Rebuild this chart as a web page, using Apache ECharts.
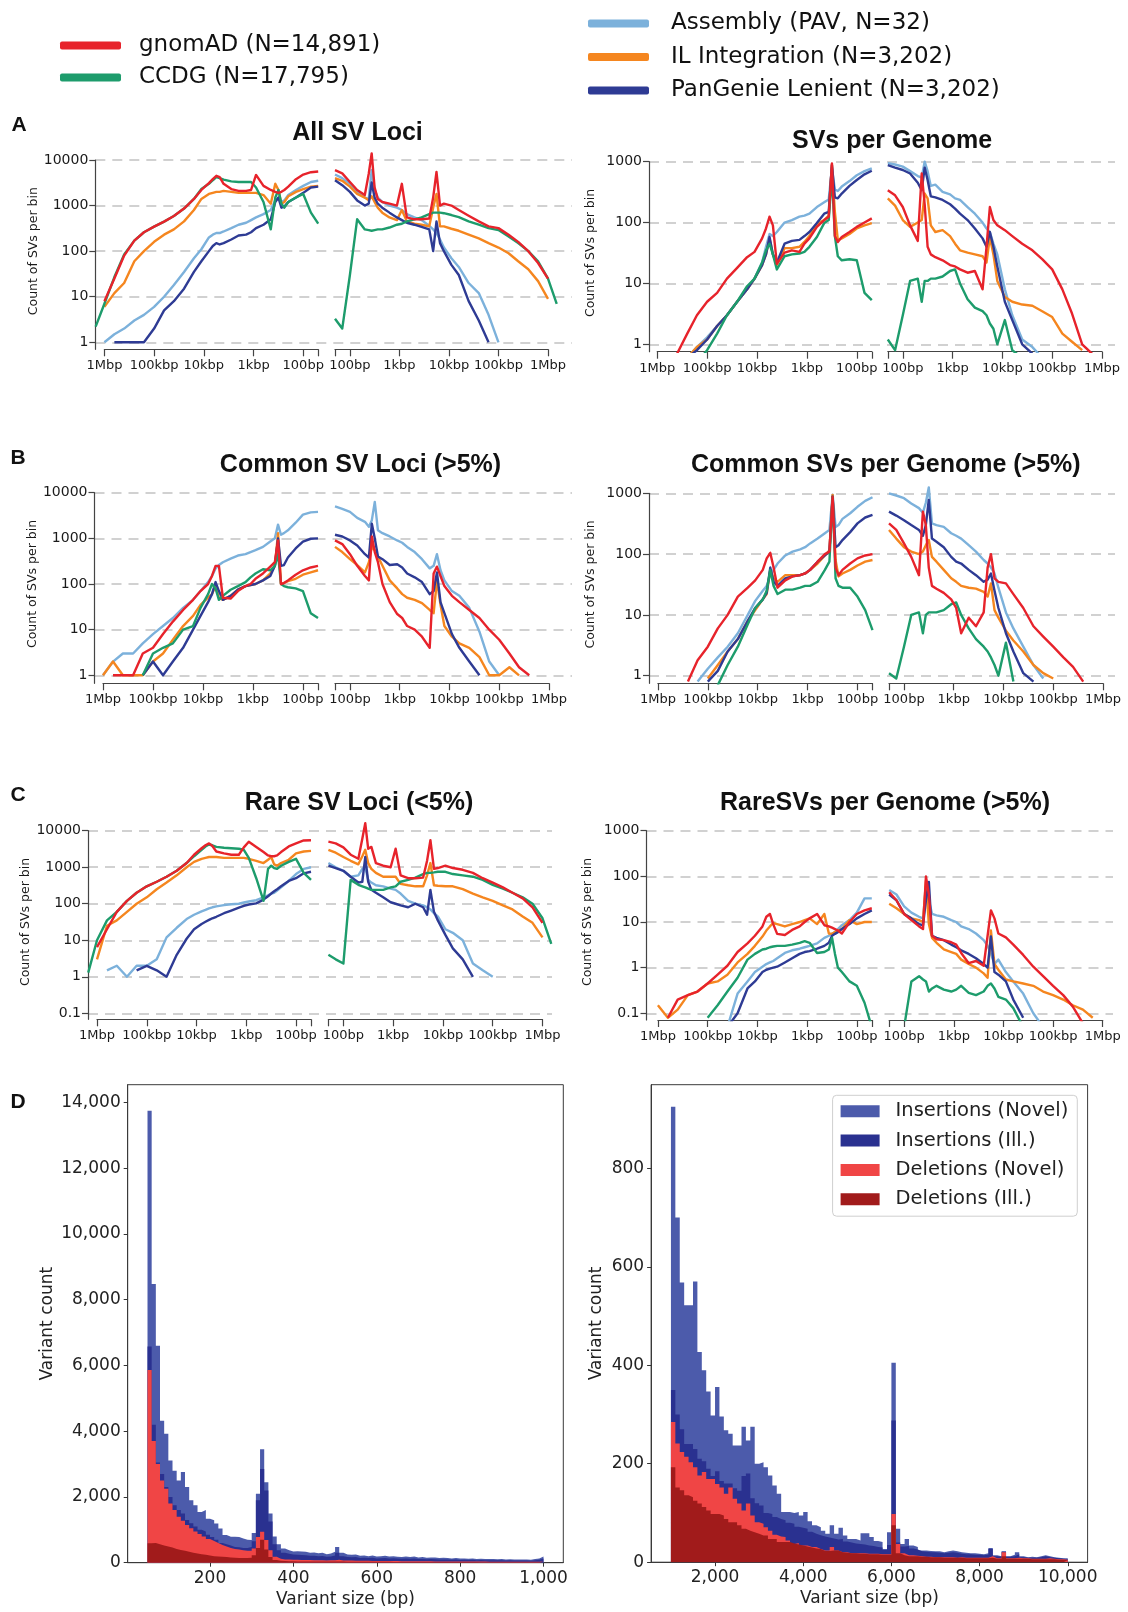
<!DOCTYPE html>
<html><head><meta charset="utf-8">
<script src="https://cdn.jsdelivr.net/npm/echarts@6.0.0/dist/echarts.min.js"></script>
<style>html,body{margin:0;padding:0;background:#fff}#chart{width:1128px;height:1612px}</style>
</head><body><div id="chart"></div>
<script>
// ---------------- DATA ----------------
// size bins (bp) shared by all size-distribution lines
const sizeBins = [50,70,100,140,200,240,275,315,365,450,630,890,1120,1410,2000,2800,4000,4800,5600,6600,7900,11200,15800,25000,40000,63000,100000,160000,250000,400000,630000,1000000,1500000];
const sizeTickLabels = {2:'100bp',3:'1kbp',4:'10kbp',5:'100kbp',6:'1Mbp'};
const seriesNames = ['Assembly (PAV, N=32)','IL Integration (N=3,202)','PanGenie Lenient (N=3,202)','CCDG (N=17,795)','gnomAD (N=14,891)'];
const seriesColors = ['#7cb1db','#f5861f','#2e3b94','#1d9c6c','#e7232b'];

// A: All SV loci (deletions / insertions)
const allLoci_del_gnomad   = [5600,5400,4800,3800,2600,2200,2000,1900,2000,2200, 2700,4700,2200,2100,2100,2300,3000,4200,4500,3800, 3100,2200,1400,860,590,445,345,260,170,80, 25,8,null];
const allLoci_del_ccdg     = [400,700,1800,1500,1200,900,1100,2200,1500,300, 1200,2500,3300,3300,3300,3400,3700,4000,4200,3600, 3000,2300,1400,860,590,445,345,260,170,85, 27,7,2.2];
const allLoci_del_il       = [2700,2600,2300,2000,1600,1200,1100,2200,3000,1100, 1700,1900,1900,1900,1900,2000,2100,2000,2000,1900, 1800,1400,800,450,300,230,160,100,60,20, 12,6,null];
const allLoci_del_assembly = [3500,3300,2700,2200,1700,1300,1200,1500,1300,800, 650,550,480,420,380,320,270,250,250,230, 200,110,70,35,18,10,6,4,3,2, 1.5,1,null];
const allLoci_del_pangenie = [2600,2500,1900,1500,1200,950,900,1500,1200,500, 380,320,260,230,220,180,150,140,150,130, 100,60,35,15,8,5,2,1,1,1, 1,null,null];
const allLoci_ins_gnomad   = [6000,5100,3300,2200,1700,5000,14000,2500,1400,1200, 1100,1000,3000,550,500,500,520,1500,5500,1000, 1100,1000,800,600,450,350,320,230,160,100, 55,25,null];
const allLoci_ins_ccdg     = [3.3,2,30,500,300,290,280,290,300,300, 330,380,400,450,500,550,650,700,700,700, 680,620,560,450,380,320,290,210,150,100, 60,25,7];
const allLoci_ins_il       = [4000,3500,2600,1800,1500,1300,1600,1200,900,700, 550,480,800,450,400,380,350,900,1800,350, 350,310,280,230,190,150,120,90,60,40, 22,9,null];
const allLoci_ins_assembly = [4800,4000,3000,2000,1500,1400,6000,2200,1500,1200, 1000,900,800,650,550,480,360,300,250,180, 120,70,45,20,12,4,1,null,null,null, null,null,null];
const allLoci_ins_pangenie = [3600,2800,2000,1300,1000,1100,3200,1500,1100,900, 700,550,480,420,380,340,300,100,450,150, 100,50,30,8,3,1,null,null,null,null, null,null,null];

// A: SVs per genome
const perGenome_del_gnomad   = [117,100,85,70,58,48,60,940,125,110, 85,55,45,33,35,32,21,90,125,80, 55,33,27,18,12,7,5,3,1.5,0.7, null,null,null];
const perGenome_del_ccdg     = [5.3,7,24,25,24,28,60,600,110,98, 58,40,33,31,30,28,17,30,45,35, 22,12,9,5,3,1.5,0.8,0.5,null,null, null,null,null];
const perGenome_del_il       = [98,90,80,65,55,52,150,900,130,110, 95,60,48,40,38,38,20,30,55,30, 20,12,8,5,3,2,1.2,0.9,0.6,null, null,null,null];
const perGenome_del_assembly = [780,700,600,480,390,330,350,800,240,215, 180,140,130,125,110,100,70,60,65,40, 22,12,8,5,3,2,1.3,0.9,0.6,null, null,null,null];
const perGenome_del_pangenie = [710,620,500,400,300,250,260,880,150,140, 98,70,60,52,50,45,22,30,58,30, 20,12,8,5,3,2,1.2,0.8,0.6,null, null,null,null];
const perGenome_ins_gnomad   = [340,280,180,90,50,640,200,40,30,27, 24,20,19,17,15,16,8,40,180,110, 90,75,60,45,35,25,17,8,3.2,1, 0.7,null,null];
const perGenome_ins_ccdg     = [1.2,0.8,3,11,12,5,11,11,12,12, 13,16,17,10,5.5,4,3.5,3,2.2,1.8, 1,2.5,0.8,0.6,null,null,null,null,null,null, null,null,null];
const perGenome_ins_il       = [250,190,110,85,100,110,300,250,90,70, 75,60,45,35,32,30,28,22,58,30, 11,6,5,4.5,4.3,3.5,2.8,1.5,1.1,0.8, null,null,null];
const perGenome_ins_assembly = [950,900,830,700,580,550,1000,700,400,420, 320,290,250,235,180,140,100,80,70,45, 30,8,3,1.2,0.9,0.6,null,null,null,null, null,null,null];
const perGenome_ins_pangenie = [880,800,730,640,450,340,800,500,270,260, 235,200,170,140,110,80,55,40,70,40, 19,5,2.5,1,0.7,null,null,null,null,null, null,null,null];

// B: Common SV loci (>5%)
const commonLoci_del_gnomad   = [250,230,200,160,120,105,100,900,300,240, 170,130,100,90,70,48,50,250,250,150, 100,70,45,27,15,8,4,3,1,1, 1,null,null];
const commonLoci_del_ccdg     = [18,23,70,80,85,90,100,450,250,200, 210,170,140,110,90,75,55,45,80,100, 60,30,12,10,5,4,3,1,null,null, null,null,null];
const commonLoci_del_il       = [200,180,160,130,115,105,100,1300,250,170, 120,100,95,90,75,55,45,50,90,60, 50,35,20,12,6,3,2,1,1,1, 2,1,null];
const commonLoci_del_assembly = [3800,3700,3300,2200,1500,1300,1200,2000,1000,850, 650,550,500,450,420,360,300,260,220,150, 110,70,45,30,18,12,8,5,3,3, 2,1,null];
const commonLoci_del_pangenie = [1000,980,850,600,380,260,250,1000,250,150, 120,100,95,90,75,55,45,70,110,60, 40,20,10,4,2,1,2,1,null,null, null,null,null];
const commonLoci_ins_gnomad   = [900,750,450,250,150,120,1100,500,300,100, 40,22,18,12,10,7,4,170,240,150, 90,55,40,27,18,10,6,3,1.5,1, null,null,null];
const commonLoci_ins_il       = [650,500,350,260,180,300,650,550,400,250, 120,80,60,50,45,38,27,23,120,35, 12,7,5,4,2.5,1,1,1.5,1,null, null,null,null];
const commonLoci_ins_assembly = [5000,4400,3800,2800,2300,1800,2500,6300,1500,1300, 1100,900,800,650,500,350,220,250,450,200, 120,70,55,30,9,2,1,null,null,null, null,null,null];
const commonLoci_ins_pangenie = [1200,1100,900,700,450,380,2100,1000,400,350, 260,270,230,170,140,110,60,70,180,40, 23,8,4,2,1,null,null,null,null,null, null,null,null];

// B: Common SVs per genome (>5%)
const commonGenome_del_gnomad   = [100,95,85,70,55,45,60,880,110,100, 75,55,48,45,43,37,28,60,105,85, 55,37,28,20,10,6,3,1.8,0.8,null, null,null,null];
const commonGenome_del_ccdg     = [5.6,12,20,28,28,30,40,880,75,55, 35,30,30,28,26,26,22,30,55,25, 18,13,7,3,1.5,0.7,null,null,null,null, null,null,null];
const commonGenome_del_il       = [80,75,65,55,48,43,80,940,115,95, 70,55,48,45,45,45,35,40,55,22, 18,12,8,4,2.5,1.5,0.9,null,null,null, null,null,null];
const commonGenome_del_assembly = [860,750,600,470,380,300,280,950,250,220, 180,150,130,120,110,95,70,55,45,30, 25,17,10,5,3,2,1.3,0.8,null,null, null,null,null];
const commonGenome_del_pangenie = [440,400,320,230,170,140,130,880,110,95, 75,55,48,45,43,40,30,35,60,23, 18,13,8,4,2.5,1.2,0.8,null,null,null, null,null,null];
const commonGenome_ins_gnomad   = [320,250,150,90,45,500,300,60,30,27, 23,18,13,5,9,6.5,11,60,100,40, 35,33,22,13,6.5,4.4,3,2,1.4,0.8, null,null,null];
const commonGenome_ins_ccdg     = [1.1,0.9,3,10,11,5,10,11,11,11, 12,15,16,10,6,4,3,2.5,2,1.5, 1,3.5,0.8,null,null,null,null,null,null,null, null,null,null];
const commonGenome_ins_il       = [250,180,130,110,100,110,140,170,90,75, 55,40,35,30,28,27,24,20,33,12, 9,5.5,3.8,2.5,1.5,1.1,0.9,null,null,null, null,null,null];
const commonGenome_ins_assembly = [1000,920,830,680,570,480,700,1250,320,300, 280,220,200,180,140,110,80,70,60,48, 28,11,6,3,1.5,0.9,null,null,null,null, null,null,null];
const commonGenome_ins_pangenie = [500,430,360,300,250,200,300,780,180,160, 130,90,75,70,55,45,35,38,48,25, 13,5,2.5,1.1,0.8,null,null,null,null,null, null,null,null];

// C: Rare SV loci (<5%)
const rareLoci_del_gnomad   = [5500,5400,4500,3700,2600,2100,2000,2000,2100,2600, 3600,5000,3500,2200,2200,2400,2700,3800,4500,4000, 3300,2200,1300,800,550,400,300,200,120,60, 20,6.5,null];
const rareLoci_del_ccdg     = [450,700,1700,1400,1100,900,950,1100,900,120, 500,1800,3000,3200,3300,3400,3600,4000,4200,3700, 3000,2000,1300,800,550,400,300,200,120,60, 35,10,1.3];
const rareLoci_del_il       = [2800,2700,2400,1600,1300,1100,1200,1900,1600,1300, 1500,1700,1800,1800,1800,1800,1900,1900,1900,1800, 1700,1400,1000,600,380,250,150,100,60,35, 25,3,null];
const rareLoci_del_assembly = [1000,900,650,420,280,230,200,190,170,150, 125,115,108,100,97,92,85,80,75,68, 62,50,38,22,12,3,2,2,1,2, 1.5,null,null];
const rareLoci_del_pangenie = [750,680,500,420,300,250,220,190,160,130, 102,95,88,78,65,55,44,40,36,32, 28,20,11,4,1,1.5,2,1.5,null,null, null,null,null];
const rareLoci_ins_gnomad   = [5000,4500,3500,2200,1700,6000,16000,3200,3600,1300, 1100,1000,3200,600,500,500,520,1500,5500,900, 950,1100,950,850,700,500,380,280,200,140, 80,30,null];
const rareLoci_ins_ccdg     = [4,3,2.3,450,330,300,280,260,240,240, 240,280,300,400,450,520,650,700,700,720, 750,750,650,600,550,450,330,260,200,150, 100,40,8];
const rareLoci_ins_il       = [3000,2500,1900,1500,1200,2000,3000,1300,900,700, 550,550,550,350,320,300,300,600,1300,320, 310,300,300,250,190,150,120,90,70,45, 30,12,null];
const rareLoci_ins_assembly = [1300,1000,800,550,600,900,1000,450,380,320, 300,260,240,190,120,100,90,80,70,55, 45,20,16,10,2.3,1.5,1,null,null,null, null,null,null];
const rareLoci_ins_pangenie = [1100,950,800,550,380,400,1900,400,240,200, 150,110,100,90,80,100,80,50,240,60, 35,14,6,3,1,null,null,null,null,null, null,null,null];

// C: Rare SVs per genome
const rareGenome_del_gnomad   = [20,18,15,10,5.6,6.5,7,7.5,8,8.5, 15,12,10,8,6.7,5.2,5.5,9,15,13, 8,5,3.4,2.2,1.1,0.7,0.45,0.3,0.25,0.2, 0.08,null,null];
const rareGenome_del_ccdg     = [0.05,0.17,0.4,0.5,0.8,1,2,4.5,2.5,2.2, 2.1,3.5,3.8,3.5,3.2,3,3,2.9,2.8,2.6, 2.5,2,1.5,0.6,0.3,0.15,0.08,null,null,null, null,null,null];
const rareGenome_del_il       = [10,10,9,11,7,6.5,6,5.5,5.6,15, 9,12,11,10,9,8,9,9.5,8,6.5, 4.8,3,2,1.3,0.7,0.5,0.45,0.3,0.25,0.12, 0.08,0.15,null];
const rareGenome_del_assembly = [33,33,16,11,8.5,7,6,5.5,5,4.5, 3.4,3,2.8,2.6,2.4,2.1,1.6,1.4,1.3,1.2, 1.05,0.8,0.5,0.27,0.05,null,null,null,null,null, null,null,null];
const rareGenome_del_pangenie = [18,15,12,9,7,6,5.5,5,3.5,3, 2.6,2.3,2.2,2,1.6,1.3,1.05,1,0.95,0.9, 0.8,0.5,0.35,0.1,0.05,null,null,null,null,null, null,null,null];
const rareGenome_ins_gnomad   = [45,30,15,11,8,7,100,40,5,4.2, 4,3.6,3.2,2.1,1.25,1.4,1.1,5,18,12, 5.6,4.6,3.2,1.9,1.05,0.65,0.4,0.25,0.14,0.06, null,null,null];
const rareGenome_ins_ccdg     = [null,null,0.05,0.5,0.65,0.55,0.5,0.3,0.35,0.4, 0.33,0.3,0.33,0.4,0.28,0.25,0.3,0.4,0.45,0.35, 0.23,0.2,0.13,0.05,null,null,null,null,null,null, null,null,null];
const rareGenome_ins_il       = [25,20,15,12,11,10,80,9,4.5,3.5, 2.5,2.2,2,1.5,1.2,1,0.75,0.6,6.5,1.2, 0.9,0.55,0.5,0.45,0.4,0.3,0.25,0.2,0.15,0.12, 0.08,null,null];
const rareGenome_ins_assembly = [50,40,22,16,13,12,60,30,15,14, 13,11,10,8,7,5.6,4,3,2,1.2, 1.5,0.8,0.5,0.27,0.1,0.05,null,null,null,null, null,null,null];
const rareGenome_ins_pangenie = [40,30,15,12,9,8.5,30,75,5,4.5, 4,3.2,2.8,2.4,2,1.6,1.2,1,4.8,0.8, 0.7,0.5,0.2,0.08,null,null,null,null,null,null, null,null,null];

// D: histograms (bin start, bp)
const histShortBins = [50,60,70,80,90,100,110,120,130,140,150,160,170,180,190,200,210,220,230,240,250,260,270,280,290,300,310,320,330,340,350,360,370,380,390,400,410,420,430,440,450,460,470,480,490,500,510,520,530,540,550,560,570,580,590,600,610,620,630,640,650,660,670,680,690,700,710,720,730,740,750,760,770,780,790,800,810,820,830,840,850,860,870,880,890,900,910,920,930,940,950,960,970,980,990];
const histShort_insNovel = [13750,8475,6600,4320,3920,3110,2800,2500,2760,2300, 1900,1750,1545,1600,1340,1290,1190,1040,840,790, 790,780,740,700,690,900,2100,3450,2450,1500, 800,560,430,380,340, 350,340,330,300,310,290,300,260,280,330, 480,300,250,240,250,210,220,200,220,190, 200,210,190,200,180,170,185,170,190,160, 170,150,160,155,140,150,140,130,140,125, 130,120,130,115,120,110,115,110,105,110, 100,105,100,95,100,95,90,110,130,190];
const histShort_insIll = [6575,4200,3050,2700,2300,2000,1750,1600,1500,1300, 1200,1100,1000,950,850,780,700,600,560,520, 480,470,450,450,480,650,1900,2850,2200,1250, 560,380,300,270,250, 240,235,230,210,215,200,205,180,190,220, 300,200,170,165,170,145,150,140,150,130, 135,140,130,135,125,118,125,118,130,110, 115,105,110,105,95,100,95,90,95,85, 88,82,88,78,82,75,78,75,72,75, 68,72,68,65,68,65,62,75,90,130];
const histShort_delNovel = [5860,3700,3000,2500,2250,1800,1600,1400,1280,1150, 1050,950,870,800,720,660,600,540,490,450, 420,400,380,360,360,430,780,940,690,380, 180,120,100,95,90, 88,85,82,80,78,75,74,70,72,75, 90,70,66,64,62,60,58,56,55,54, 53,52,50,50,48,47,46,45,46,44, 43,42,41,40,40,39,38,37,37,36, 36,35,34,34,33,33,32,32,31,31, 30,30,30,29,29,28,28,30,32,40];
const histShort_delIll = [590,600,560,520,490,460,420,390,360,330, 300,280,260,240,220,200,190,180,170,160, 150,140,140,140,150,230,450,700,400,170, 80,60,50,45,42, 40,39,38,37,36,35,35,34,34,35, 40,33,32,31,30,30,29,28,28,27, 27,26,26,25,25,24,24,23,24,23, 22,22,21,21,21,20,20,20,19,19, 19,18,18,18,17,17,17,17,16,16, 16,16,15,15,15,15,14,15,16,20];

const histLongBins = [1000,1100,1200,1300,1400,1500,1600,1700,1800,1900,2000,2100,2200,2300,2400,2500,2600,2700,2800,2900,3000,3100,3200,3300,3400,3500,3600,3700,3800,3900,4000,4100,4200,4300,4400,4500,4600,4700,4800,4900,5000,5100,5200,5300,5400,5500,5600,5700,5800,5900,6000,6100,6200,6300,6400,6500,6600,6700,6800,6900,7000,7100,7200,7300,7400,7500,7600,7700,7800,7900,8000,8100,8200,8300,8400,8500,8600,8700,8800,8900,9000,9100,9200,9300,9400,9500,9600,9700,9800,9900];
const histLong_insNovel = [925,700,568,522,522,570,427,390,347,298, 356,296,268,261,237,237,275,247,275,200, 203,193,176,156,139,102,102,100,102,95, 102,83,75,71,64,58,75,58,70,54, 47,47,44,59,59,51,43,41,27,61, 405,68,37,47,34,31,24,24,23,22, 22,20,22,24,22,20,19,18,18,17, 16,18,29,14,12,22,12,15,20,12, 10,11,10,12,14,12,10,9,8,8];
const histLong_insIll = [350,300,270,240,240,230,210,205,190,175, 185,165,160,160,150,145,175,180,130,120, 115,100,98,92,88,85,80,78,72,70, 68,62,58,55,52,50,48,46,47,42, 40,38,37,36,34,33,31,30,25,35, 288,40,32,33,28,26,22,21,20,20, 19,18,19,20,19,17,16,16,15,15, 14,15,27,12,11,21,11,12,16,10, 9,9,9,10,12,10,9,8,7,6];
const histLong_delNovel = [285,241,224,214,203,193,176,183,169,169, 159,152,139,152,129,119,105,119,95,81, 78,71,64,56,52,51,44,37,39,34, 34,31,31,27,24,24,31,24,20,20, 18,18,18,18,17,17,17,16,16,16, 98,37,18,14,14,13,12,11,11,10, 10,10,10,10,9,10,9,9,9,9, 9,9,12,8,8,20,8,8,9,8, 8,7,7,7,7,8,7,6,6,5];
const histLong_delIll = [193,152,146,136,132,125,119,112,105,98, 98,95,88,81,81,75,68,64,61,58, 54,54,47,47,41,41,41,38,36,34, 32,30,28,27,23,23,24,24,20,19, 18,18,17,17,16,16,16,15,15,15, 75,18,14,12,12,12,11,11,10,10, 10,9,9,9,9,9,8,8,8,8, 8,8,9,7,7,12,7,7,7,7, 7,6,6,6,6,6,6,5,5,4];
const histNames = ['Insertions (Novel)','Insertions (Ill.)','Deletions (Novel)','Deletions (Ill.)'];
const histColors = ['#4c5bab','#2a3190','#f04545','#a11b1b'];

// ---------------- LAYOUT ----------------
const F = "'DejaVu Sans', sans-serif";
const AX = '#444';
const EXT_TOP = 16;
const panels = [
  {title:'All SV Loci', tx:357.5, ty:133.3, letter:'A', lx:19, ly:125,
   ax:95.3, dashEnd:572, yTop:160, yBot:342.3, xAxisY:349.3, l1M:104.4, lEnd:318.2, rStart:335, r1M:548, yMinLog:0, yMaxLog:4,
   del:[allLoci_del_assembly, allLoci_del_il, allLoci_del_pangenie, allLoci_del_ccdg, allLoci_del_gnomad],
   ins:[allLoci_ins_assembly, allLoci_ins_il, allLoci_ins_pangenie, allLoci_ins_ccdg, allLoci_ins_gnomad]},
  {title:'SVs per Genome', tx:892, ty:140.7,
   ax:649, dashEnd:1115, yTop:161.7, yBot:344.3, xAxisY:351.7, l1M:657.2, lEnd:871.8, rStart:887.8, r1M:1102, yMinLog:0, yMaxLog:3,
   del:[perGenome_del_assembly, perGenome_del_il, perGenome_del_pangenie, perGenome_del_ccdg, perGenome_del_gnomad],
   ins:[perGenome_ins_assembly, perGenome_ins_il, perGenome_ins_pangenie, perGenome_ins_ccdg, perGenome_ins_gnomad]},
  {title:'Common SV Loci (>5%)', tx:360.5, ty:465, letter:'B', lx:18, ly:458.3,
   ax:94.5, dashEnd:572, yTop:492.7, yBot:675.3, xAxisY:683.3, l1M:103, lEnd:318, rStart:335, r1M:549, yMinLog:0, yMaxLog:4,
   del:[commonLoci_del_assembly, commonLoci_del_il, commonLoci_del_pangenie, commonLoci_del_ccdg, commonLoci_del_gnomad],
   ins:[commonLoci_ins_assembly, commonLoci_ins_il, commonLoci_ins_pangenie, null, commonLoci_ins_gnomad]},
  {title:'Common SVs per Genome (>5%)', tx:885.8, ty:465,
   ax:649, dashEnd:1115, yTop:493.3, yBot:675.7, xAxisY:683.3, l1M:657.9, lEnd:872.5, rStart:889, r1M:1103, yMinLog:0, yMaxLog:3,
   del:[commonGenome_del_assembly, commonGenome_del_il, commonGenome_del_pangenie, commonGenome_del_ccdg, commonGenome_del_gnomad],
   ins:[commonGenome_ins_assembly, commonGenome_ins_il, commonGenome_ins_pangenie, commonGenome_ins_ccdg, commonGenome_ins_gnomad]},
  {title:'Rare SV Loci (<5%)', tx:359, ty:803.3, letter:'C', lx:18, ly:795,
   ax:88, dashEnd:552, yTop:830.7, yBot:1013.3, xAxisY:1019.3, l1M:97, lEnd:311, rStart:328.4, r1M:542.5, yMinLog:-1, yMaxLog:4,
   del:[rareLoci_del_assembly, rareLoci_del_il, rareLoci_del_pangenie, rareLoci_del_ccdg, rareLoci_del_gnomad],
   ins:[rareLoci_ins_assembly, rareLoci_ins_il, rareLoci_ins_pangenie, rareLoci_ins_ccdg, rareLoci_ins_gnomad]},
  {title:'RareSVs per Genome (>5%)', tx:885, ty:803.3,
   ax:646.5, dashEnd:1113, yTop:830.7, yBot:1013.3, xAxisY:1020, l1M:657.9, lEnd:871.8, rStart:889.2, r1M:1102.7, yMinLog:-1, yMaxLog:3,
   del:[rareGenome_del_assembly, rareGenome_del_il, rareGenome_del_pangenie, rareGenome_del_ccdg, rareGenome_del_gnomad],
   ins:[rareGenome_ins_assembly, rareGenome_ins_il, rareGenome_ins_pangenie, rareGenome_ins_ccdg, rareGenome_ins_gnomad]}
];
const hists = [
  {left:127.7, right:563.3, top:1084.7, bottom:1562.7, xMin:2.5, xMax:1047.5, binW:10, xTicks:[200,400,600,800,1000],
   yMax:14542, yTicks:[0,2000,4000,6000,8000,10000,12000,14000], yNameGap:72, letter:'D', lx:18, ly:1102,
   bins:histShortBins, vals:[histShort_insNovel, histShort_insIll, histShort_delNovel, histShort_delIll]},
  {left:651.1, right:1087.6, top:1084.7, bottom:1562.2, xMin:550, xMax:10450, binW:100, xTicks:[2000,4000,6000,8000,10000],
   yMax:970, yTicks:[0,200,400,600,800], yNameGap:46,
   bins:histLongBins, vals:[histLong_insNovel, histLong_insIll, histLong_delNovel, histLong_delIll]}
];

// ---------------- BUILD ----------------
const grid=[], xAxis=[], yAxis=[], series=[], graphic=[];
function addGrid(l,t,r,b,extra){ grid.push(Object.assign({left:l, top:t, width:r-l, height:b-t, show:false}, extra||{})); return grid.length-1; }
function sizeFmt(v){ const l=Math.log10(v), r=Math.round(l); return (Math.abs(l-r)<1e-6 && sizeTickLabels[r]) ? sizeTickLabels[r] : ''; }
function countFmt(v){ const l=Math.log10(v), r=Math.round(l); if (Math.abs(l-r)>1e-6) return ''; return r<0 ? Math.pow(10,r).toFixed(-r) : String(Math.round(v)); }
function commaFmt(v){ return Number(v).toLocaleString('en-US'); }
const LOG_SPAN_X = Math.log10(1e6/50);

function mkLine(k, g, arr){
  return {type:'line', name:seriesNames[k], xAxisIndex:g, yAxisIndex:g,
    data: sizeBins.map((s,i)=>[s, arr[i]]).filter(d=>d[1]!=null),
    symbol:'none', showSymbol:false, clip:true, silent:true,
    lineStyle:{width:2.4, color:seriesColors[k], join:'round'}, itemStyle:{color:seriesColors[k]}};
}

panels.forEach(p=>{
  const pxDecL=(p.lEnd-p.l1M)/LOG_SPAN_X, pxDecR=(p.r1M-p.rStart)/LOG_SPAN_X;
  const pxDecY=(p.yBot-p.yTop)/(p.yMaxLog-p.yMinLog);
  const dYMax=Math.pow(10, p.yMaxLog + EXT_TOP/pxDecY);
  const dYMin=Math.pow(10, p.yMinLog - (p.xAxisY-p.yBot)/pxDecY);
  // frame: labels, ticks, dashed gridlines
  let g=addGrid(p.ax, p.yTop, p.dashEnd, p.yBot);
  xAxis.push({gridIndex:g, type:'value', show:false, min:0, max:1});
  yAxis.push({gridIndex:g, type:'log', logBase:10, min:Math.pow(10,p.yMinLog), max:Math.pow(10,p.yMaxLog),
    axisLine:{show:false}, axisTick:{show:true, length:6, lineStyle:{color:AX, width:1.2}},
    minorTick:{show:false}, minorSplitLine:{show:false},
    axisLabel:{formatter:countFmt, margin:7, fontSize:14, fontFamily:F, color:'#1a1a1a'},
    splitLine:{show:true, lineStyle:{type:[10,7], color:'#c2c2c2', width:1.6}},
    name:'Count of SVs per bin', nameLocation:'middle', nameRotate:90, nameGap:52,
    nameTextStyle:{fontSize:12.5, fontFamily:F, color:'#1a1a1a'}});
  // y spine
  g=addGrid(p.ax, p.yTop, p.ax+2, p.xAxisY);
  xAxis.push({gridIndex:g, type:'value', show:false, min:0, max:1});
  yAxis.push({gridIndex:g, type:'value', min:0, max:1, axisLine:{show:true, lineStyle:{color:AX, width:1.2}},
    axisTick:{show:false}, axisLabel:{show:false}, splitLine:{show:false}});
  // data grids
  const gL=addGrid(p.ax, p.yTop-EXT_TOP, p.lEnd, p.xAxisY);
  xAxis.push({gridIndex:gL, type:'log', show:false, inverse:true, min:50, max:Math.pow(10, 6+(p.l1M-p.ax)/pxDecL)});
  yAxis.push({gridIndex:gL, type:'log', show:false, min:dYMin, max:dYMax});
  const gR=addGrid(p.rStart, p.yTop-EXT_TOP, p.dashEnd, p.xAxisY);
  xAxis.push({gridIndex:gR, type:'log', show:false, min:50, max:Math.pow(10, 6+(p.dashEnd-p.r1M)/pxDecR)});
  yAxis.push({gridIndex:gR, type:'log', show:false, min:dYMin, max:dYMax});
  // visible split x axes
  [[p.l1M,p.lEnd,true],[p.rStart,p.r1M,false]].forEach(([a,b,inv])=>{
    const ga=addGrid(a, p.xAxisY-4, b, p.xAxisY);
    xAxis.push({gridIndex:ga, type:'log', logBase:10, inverse:inv, min:50, max:1e6,
      axisLine:{show:true, lineStyle:{color:AX, width:1.2}},
      axisTick:{show:true, length:7, lineStyle:{color:AX, width:1.2}},
      minorTick:{show:false},
      axisLabel:{formatter:sizeFmt, margin:10, fontSize:13, fontFamily:F, color:'#1a1a1a', hideOverlap:false},
      splitLine:{show:false}});
    yAxis.push({gridIndex:ga, type:'value', show:false, min:0, max:1});
  });
  p.del.forEach((arr,k)=>{ if(arr) series.push(mkLine(k,gL,arr)); });
  p.ins.forEach((arr,k)=>{ if(arr) series.push(mkLine(k,gR,arr)); });
  graphic.push({type:'text', x:p.tx, y:p.ty, silent:true,
    style:{text:p.title, font:"bold 25px 'Liberation Sans', Arial, sans-serif", fill:'#111', textAlign:'center', textVerticalAlign:'middle', align:'center', verticalAlign:'middle'}});
  if (p.letter) graphic.push({type:'text', x:p.lx, y:p.ly, silent:true,
    style:{text:p.letter, font:"bold 21px 'Liberation Sans', Arial, sans-serif", fill:'#111', textAlign:'center', textVerticalAlign:'middle', align:'center', verticalAlign:'middle'}});
});

hists.forEach(h=>{
  const g=addGrid(h.left, h.top, h.right, h.bottom, {show:true, borderColor:'#3a3a3a', borderWidth:1, backgroundColor:'rgba(0,0,0,0)'});
  xAxis.push({gridIndex:g, type:'value', min:h.xMin, max:h.xMax,
    axisLine:{show:true, lineStyle:{color:'#3a3a3a', width:1}},
    axisTick:{show:true, length:4, lineStyle:{color:'#333'}, customValues:h.xTicks},
    axisLabel:{customValues:h.xTicks, formatter:commaFmt, fontSize:17, fontFamily:F, color:'#222', margin:7},
    splitLine:{show:false}, name:'Variant size (bp)', nameLocation:'middle', nameGap:28,
    nameTextStyle:{fontSize:17, fontFamily:F, color:'#222'}});
  yAxis.push({gridIndex:g, type:'value', min:0, max:h.yMax,
    axisLine:{show:true, lineStyle:{color:'#3a3a3a', width:1}},
    axisTick:{show:true, length:4, lineStyle:{color:'#333'}, customValues:h.yTicks},
    axisLabel:{customValues:h.yTicks, formatter:commaFmt, fontSize:17, fontFamily:F, color:'#222', margin:7},
    splitLine:{show:false}, name:'Variant count', nameLocation:'middle', nameRotate:90, nameGap:h.yNameGap,
    nameTextStyle:{fontSize:17, fontFamily:F, color:'#222'}});
  h.vals.forEach((vals,k)=>{
    const data=h.bins.map((b,i)=>[b, vals[i]]);
    data.push([h.bins[h.bins.length-1]+h.binW, vals[vals.length-1]]);
    series.push({type:'line', name:histNames[k], xAxisIndex:g, yAxisIndex:g, step:'end', data,
      symbol:'none', showSymbol:false, silent:true, lineStyle:{width:0, color:histColors[k]},
      itemStyle:{color:histColors[k]}, areaStyle:{color:histColors[k], opacity:1}});
  });
  if (h.letter) graphic.push({type:'text', x:h.lx, y:h.ly, silent:true,
    style:{text:h.letter, font:"bold 21px 'Liberation Sans', Arial, sans-serif", fill:'#111', textAlign:'center', textVerticalAlign:'middle', align:'center', verticalAlign:'middle'}});
});

const legend = [
  {data:[seriesNames[4], seriesNames[3]], orient:'vertical', left:60, top:34, padding:0, itemGap:9,
   itemWidth:61, itemHeight:8, icon:'roundRect', selectedMode:false, itemStyle:{borderWidth:0},
   textStyle:{fontSize:23, fontFamily:F, color:'#111', padding:[0,0,0,13]}},
  {data:[seriesNames[0], seriesNames[1], seriesNames[2]], orient:'vertical', left:588, top:12, padding:0, itemGap:10.5,
   itemWidth:61, itemHeight:8, icon:'roundRect', selectedMode:false, itemStyle:{borderWidth:0},
   textStyle:{fontSize:23, fontFamily:F, color:'#111', padding:[0,0,0,17]}},
  {data:histNames, orient:'vertical', left:832.6, top:1095.3, padding:[6,9,7,8], itemGap:9.3,
   itemWidth:39, itemHeight:12, icon:'rect', selectedMode:false, itemStyle:{borderWidth:0},
   backgroundColor:'#fff', borderColor:'#cfcfcf', borderWidth:1, borderRadius:4,
   textStyle:{fontSize:19.5, fontFamily:F, color:'#222', padding:[0,0,0,11]}}
];

const chart = echarts.init(document.getElementById('chart'), null, {renderer:'canvas', width:1128, height:1612});
chart.setOption({backgroundColor:'#fff', animation:false, textStyle:{fontFamily:F},
  grid, xAxis, yAxis, series, legend, graphic});
</script></body></html>
